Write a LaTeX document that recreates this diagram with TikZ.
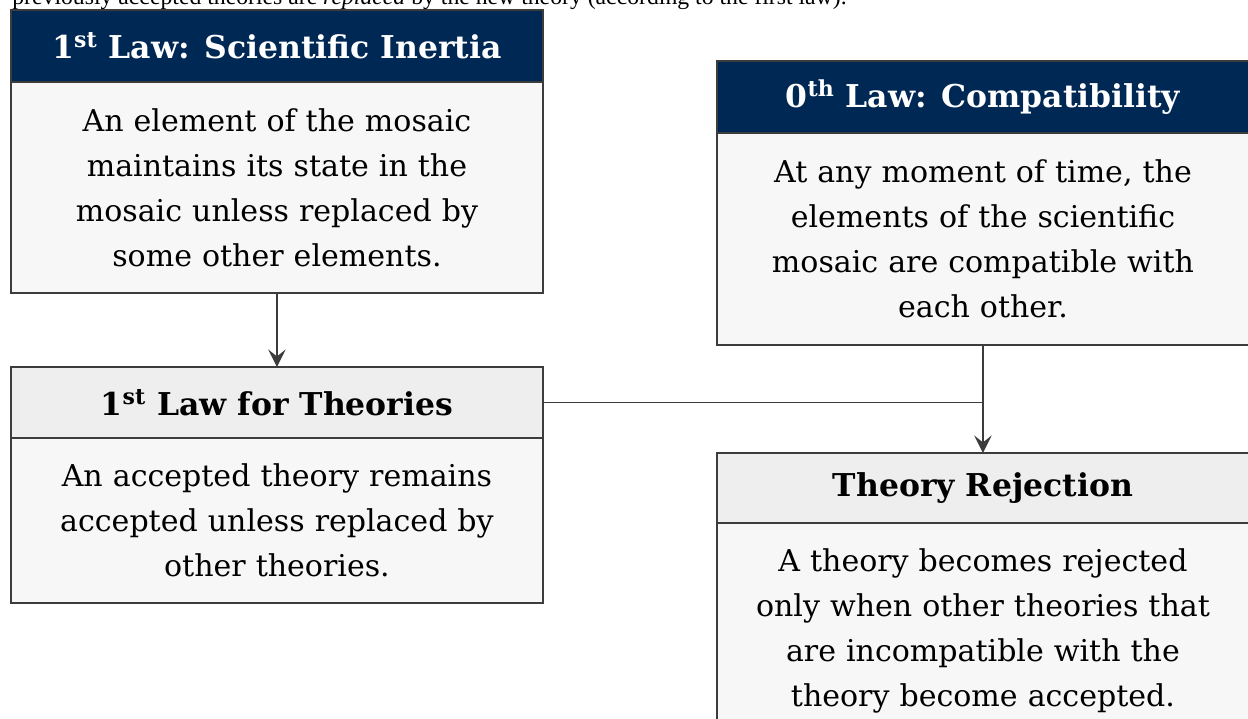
\documentclass[tikz,border=0pt]{standalone}
\usepackage{fontspec}
\setmainfont{DejaVu Serif}
\newfontfamily\notefont{Liberation Serif}
\usetikzlibrary{arrows.meta}
\definecolor{lawnavy}{HTML}{002855}
\definecolor{headgrey}{HTML}{EEEEEE}
\definecolor{bodygrey}{HTML}{F7F7F7}
\definecolor{framegrey}{HTML}{3C3C3C}
\begin{document}
\begin{tikzpicture}[x=0.02cm, y=-0.02cm,
    lawhead/.style={draw=framegrey, line width=1pt, fill=lawnavy, text=white,
      font=\bfseries\fontsize{17.9}{21}\selectfont, minimum width=10.64cm,
      minimum height=1.44cm, anchor=north west, inner sep=0pt, outer sep=0pt},
    subhead/.style={lawhead, fill=headgrey, text=black},
    lawbody/.style={draw=framegrey, line width=1pt, fill=bodygrey, text width=10.64cm,
      align=center, anchor=north west, inner sep=0pt, outer sep=0pt,
      font=\fontsize{17.1}{25.6}\selectfont},
    link/.style={draw=framegrey, line width=1pt, -{Stealth[length=10pt,width=10pt,inset=4pt]}}]

    \useasboundingbox (0,0) rectangle (1248,719);
    \clip (0,0) rectangle (1248,719);

    % Line of text cut at the top
    \node[anchor=base west, inner sep=0pt, font=\notefont\fontsize{13.5}{16}\selectfont] (note) at (12,5)
      {previously accepted theories are \textit{replaced} by the new theory (according to the first law).};

    % First law
    \node[lawhead] (inertiaHead) at (11,10) {1\textsuperscript{st} Law: Scientific Inertia};
    \node[lawbody, minimum height=4.22cm] (inertiaBody) at (inertiaHead.south west)
      {An element of the mosaic\\ maintains its state in the\\ mosaic unless replaced by\\ some other elements.};

    % Zeroth law
    \node[lawhead] (compatHead) at (717,61) {0\textsuperscript{th} Law: Compatibility};
    \node[lawbody, minimum height=4.24cm] (compatBody) at (compatHead.south west)
      {At any moment of time, the\\ elements of the scientific\\ mosaic are compatible with\\ each other.};

    % First law for theories
    \node[subhead, minimum height=1.42cm] (theoryHead) at (11,367) {1\textsuperscript{st} Law for Theories};
    \node[lawbody, minimum height=3.3cm] (theoryBody) at (theoryHead.south west)
      {An accepted theory remains\\ accepted unless replaced by\\ other theories.};

    % Theory rejection
    \node[subhead, minimum height=1.4cm] (rejectHead) at (717,453) {Theory Rejection};
    \node[lawbody, minimum height=4.3cm] (rejectBody) at (rejectHead.south west)
      {A theory becomes rejected\\ only when other theories that\\ are incompatible with the\\ theory become accepted.};

    % Connectors
    \coordinate (join) at (compatBody.south |- theoryHead.east);
    \draw[framegrey, line width=1pt] (theoryHead.east) -- (join);
    \draw[link] (inertiaBody.south) -- (theoryHead.north);
    \draw[link] (compatBody.south) -- (rejectHead.north);

\end{tikzpicture}
\end{document}
